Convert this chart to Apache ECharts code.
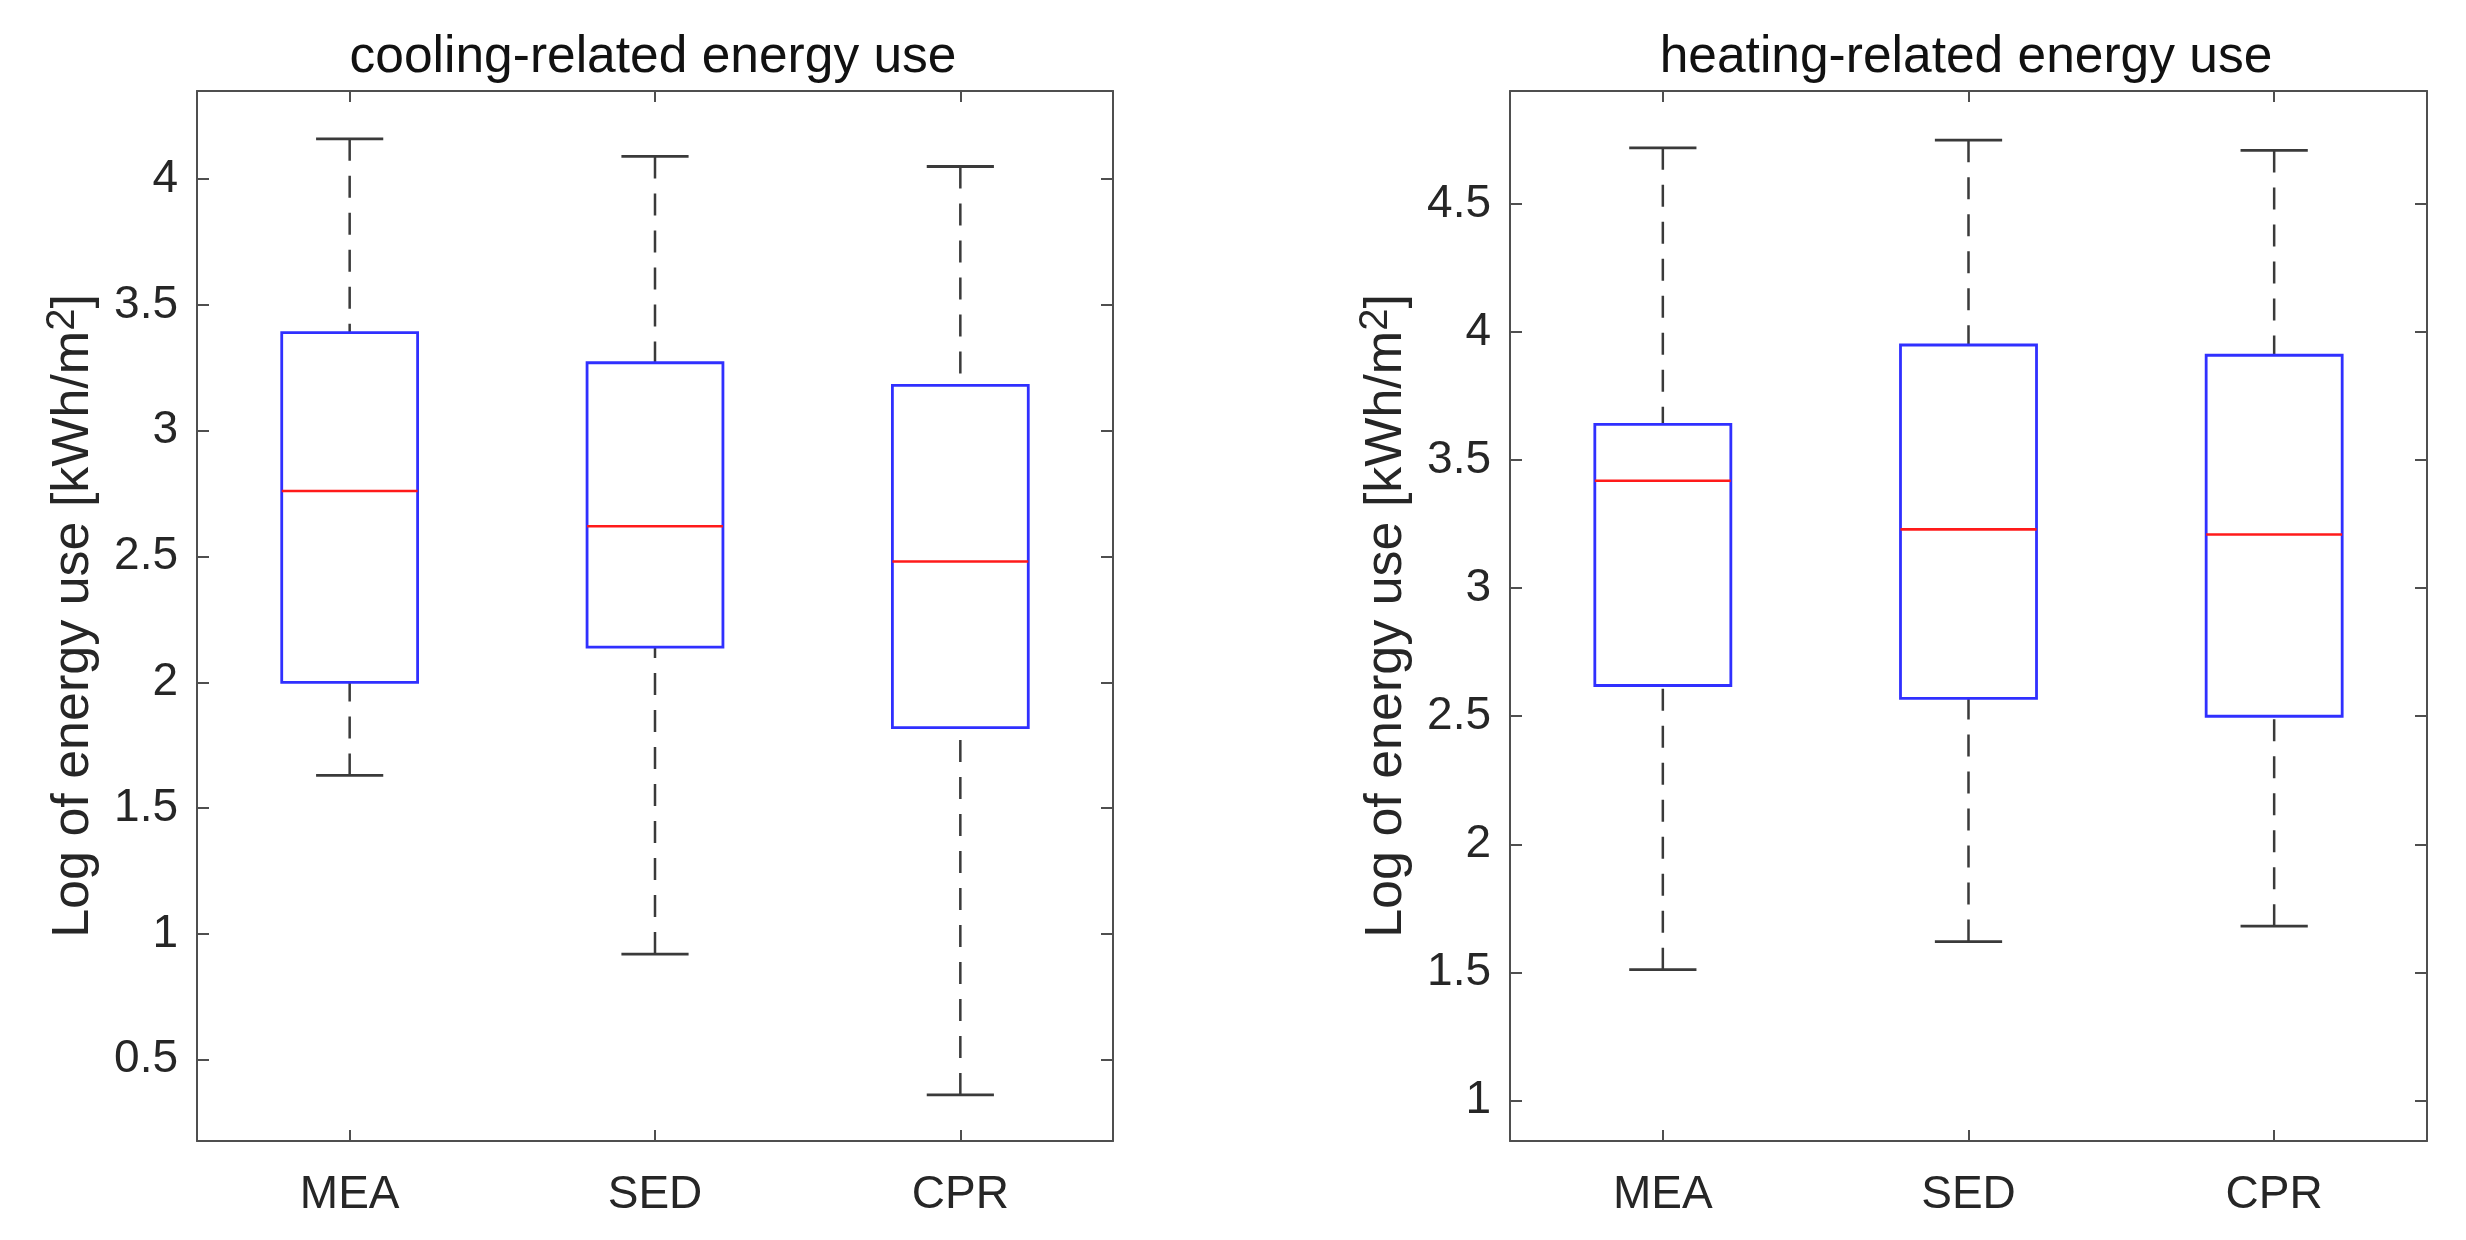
<!DOCTYPE html>
<html>
<head>
<meta charset="utf-8">
<script src="https://cdn.jsdelivr.net/npm/echarts@6/dist/echarts.min.js"></script>
<style>
  html, body { margin: 0; padding: 0; background: #ffffff; }
  #chart { width: 2466px; height: 1240px; }
</style>
</head>
<body>
<div id="chart"></div>
<script>
// ---------- data ----------
const categories = ['MEA', 'SED', 'CPR'];

const coolingTitle = 'cooling-related energy use';
const coolMin    = [1.63, 0.92, 0.36];
const coolQ1     = [2.00, 2.14, 1.82];
const coolMedian = [2.76, 2.62, 2.48];
const coolQ3     = [3.39, 3.27, 3.18];
const coolMax    = [4.16, 4.09, 4.05];
const coolTicks  = [0.5, 1, 1.5, 2, 2.5, 3, 3.5, 4];
const coolRange  = [0.177, 4.35];

const heatingTitle = 'heating-related energy use';
const heatMin    = [1.51, 1.62, 1.68];
const heatQ1     = [2.62, 2.57, 2.50];
const heatMedian = [3.42, 3.23, 3.21];
const heatQ3     = [3.64, 3.95, 3.91];
const heatMax    = [4.72, 4.75, 4.71];
const heatTicks  = [1, 1.5, 2, 2.5, 3, 3.5, 4, 4.5];
const heatRange  = [0.841, 4.942];

const yLabelMain = 'Log of energy use [kWh/m';
const yLabelSup = '2';
const yLabelEnd = ']';

// ---------- styling ----------
const FONT = '"Liberation Sans", Arial, Helvetica, sans-serif';
const AXIS_COLOR = '#4f4f4f';
const TEXT_COLOR = '#262626';
const BOX_FRAC = 0.445;
const CAP_FRAC = 0.22;

function rows(mins, q1s, meds, q3s, maxs) {
  return categories.map((c, i) => [i, mins[i], q1s[i], meds[i], q3s[i], maxs[i]]);
}

function renderBox(params, api) {
  const x = api.value(0);
  const lo = api.coord([x, api.value(1)]);
  const q1 = api.coord([x, api.value(2)]);
  const med = api.coord([x, api.value(3)]);
  const q3 = api.coord([x, api.value(4)]);
  const hi = api.coord([x, api.value(5)]);
  const band = api.size([1, 0])[0];
  const bw = band * BOX_FRAC;
  const cw = band * CAP_FRAC;
  const cx = lo[0];
  const whisk = { stroke: '#3a3a3a', lineWidth: 2.5, lineDash: [22, 15] };
  const cap = { stroke: '#3a3a3a', lineWidth: 2.8 };
  return {
    type: 'group',
    children: [
      { type: 'line', shape: { x1: cx, y1: hi[1], x2: cx, y2: q3[1] }, style: whisk },
      { type: 'line', shape: { x1: cx, y1: lo[1], x2: cx, y2: q1[1] }, style: whisk },
      { type: 'line', shape: { x1: cx - cw / 2, y1: hi[1], x2: cx + cw / 2, y2: hi[1] }, style: cap },
      { type: 'line', shape: { x1: cx - cw / 2, y1: lo[1], x2: cx + cw / 2, y2: lo[1] }, style: cap },
      { type: 'rect', shape: { x: cx - bw / 2, y: q3[1], width: bw, height: q1[1] - q3[1] },
        style: { fill: 'none', stroke: '#3030ff', lineWidth: 2.8 } },
      { type: 'line', shape: { x1: cx - bw / 2, y1: med[1], x2: cx + bw / 2, y2: med[1] },
        style: { stroke: '#ff1a1a', lineWidth: 2.6 } }
    ]
  };
}

const lineStyle = { color: AXIS_COLOR, width: 2 };

function xAxes(gridIndex) {
  return [
    {
      type: 'category', gridIndex, data: categories, position: 'bottom',
      axisLine: { show: true, lineStyle },
      axisTick: { show: true, inside: true, length: 11, alignWithLabel: true, lineStyle },
      axisLabel: { show: true, margin: 31, fontSize: 46, fontFamily: FONT, color: TEXT_COLOR },
      splitLine: { show: false }
    },
    {
      type: 'category', gridIndex, data: categories, position: 'top',
      axisLine: { show: true, lineStyle },
      axisTick: { show: true, inside: true, length: 11, alignWithLabel: true, lineStyle },
      axisLabel: { show: false },
      splitLine: { show: false }
    }
  ];
}

function yAxes(gridIndex, range, ticks) {
  return [
    {
      type: 'value', gridIndex, position: 'left', min: range[0], max: range[1],
      name: '{a|' + yLabelMain + '}{s|' + yLabelSup + '}{a|' + yLabelEnd + '}',
      nameLocation: 'middle', nameGap: 92, nameRotate: 90,
      nameTextStyle: {
        rich: {
          a: { fontSize: 52, fontFamily: FONT, color: TEXT_COLOR, lineHeight: 62 },
          s: { fontSize: 40, fontFamily: FONT, color: TEXT_COLOR, lineHeight: 40, verticalAlign: 'top' }
        }
      },
      axisLine: { show: true, lineStyle },
      axisTick: { show: true, inside: true, length: 12, lineStyle, customValues: ticks },
      axisLabel: { show: true, margin: 19, fontSize: 46, fontFamily: FONT, color: TEXT_COLOR, customValues: ticks },
      splitLine: { show: false }
    },
    {
      type: 'value', gridIndex, position: 'right', min: range[0], max: range[1],
      axisLine: { show: true, lineStyle },
      axisTick: { show: true, inside: true, length: 12, lineStyle, customValues: ticks },
      axisLabel: { show: false, customValues: ticks },
      splitLine: { show: false }
    }
  ];
}

const chart = echarts.init(document.getElementById('chart'), null, { renderer: 'canvas' });

const option = {
  backgroundColor: '#ffffff',
  animation: false,
  title: [
    { text: coolingTitle, left: 648, top: 27, textAlign: 'center',
      textStyle: { fontSize: 51.5, fontWeight: 'normal', fontFamily: FONT, color: '#111' } },
    { text: heatingTitle, left: 1961, top: 27, textAlign: 'center',
      textStyle: { fontSize: 51.5, fontWeight: 'normal', fontFamily: FONT, color: '#111' } }
  ],
  grid: [
    { left: 197, top: 91, width: 916, height: 1050, containLabel: false },
    { left: 1510, top: 91, width: 917, height: 1050, containLabel: false }
  ],
  xAxis: [...xAxes(0), ...xAxes(1)],
  yAxis: [...yAxes(0, coolRange, coolTicks), ...yAxes(1, heatRange, heatTicks)],
  series: [
    {
      type: 'custom', name: coolingTitle, xAxisIndex: 0, yAxisIndex: 0,
      renderItem: renderBox,
      encode: { x: 0, y: [1, 2, 3, 4, 5] },
      data: rows(coolMin, coolQ1, coolMedian, coolQ3, coolMax)
    },
    {
      type: 'custom', name: heatingTitle, xAxisIndex: 2, yAxisIndex: 2,
      renderItem: renderBox,
      encode: { x: 0, y: [1, 2, 3, 4, 5] },
      data: rows(heatMin, heatQ1, heatMedian, heatQ3, heatMax)
    }
  ]
};

chart.setOption(option);
</script>
</body>
</html>
